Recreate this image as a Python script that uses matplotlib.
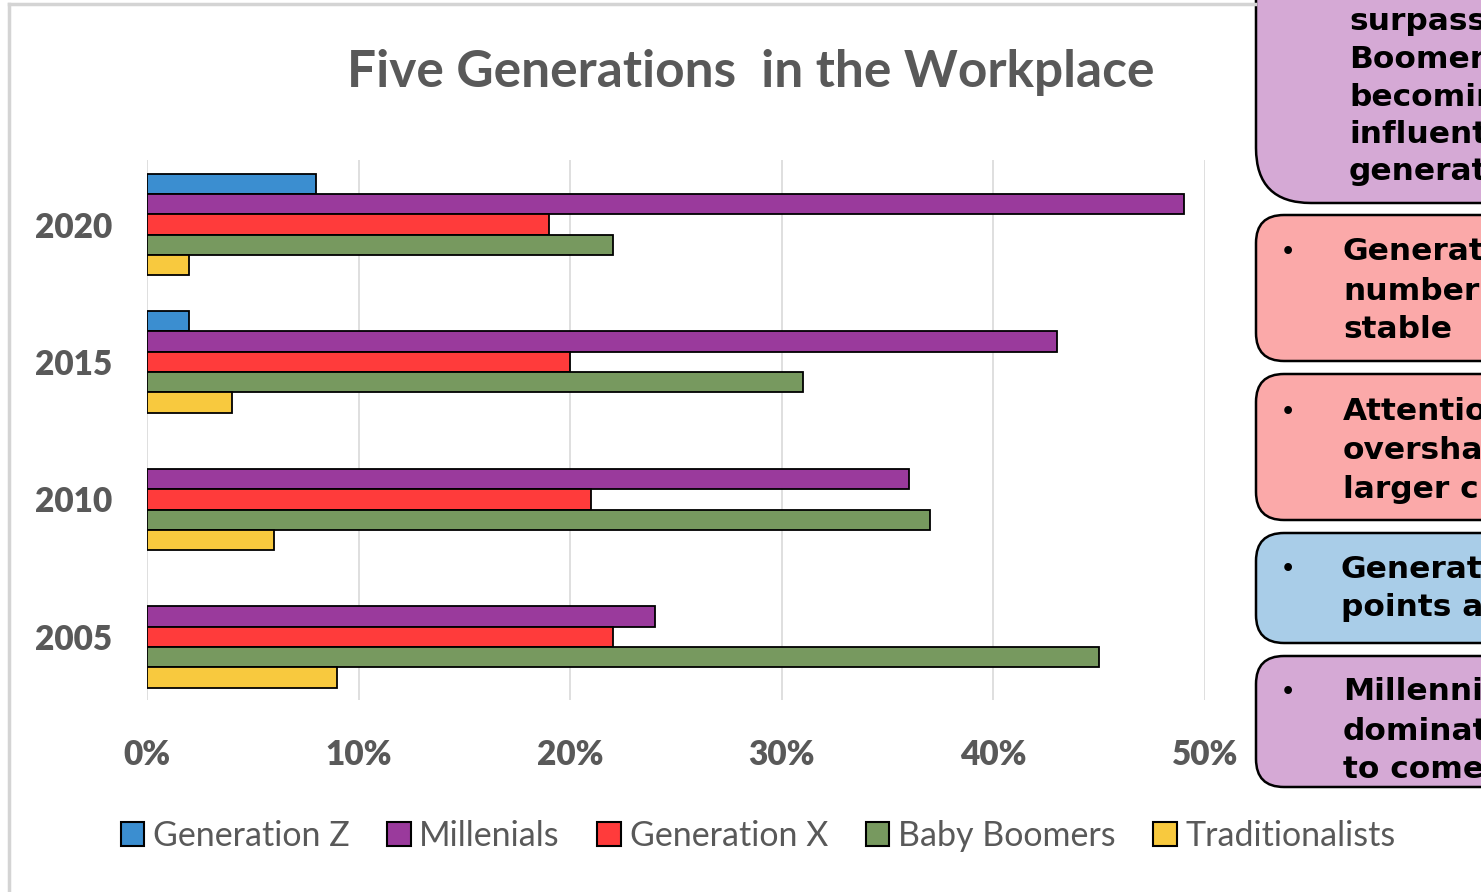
import numpy as np
import matplotlib
matplotlib.use("Agg")
import matplotlib.pyplot as plt
from matplotlib.patches import Patch, FancyBboxPatch

# --- data ---
years = ["2005", "2010", "2015", "2020"]
series = ["Generation Z", "Millenials", "Generation X", "Baby Boomers", "Traditionalists"]
gen_z = [0, 0, 2, 8]
millenials = [24, 36, 43, 49]
gen_x = [22, 21, 20, 19]
boomers = [45, 37, 31, 22]
traditionalists = [9, 6, 4, 2]
colors = ["#3B8ED0", "#9A3A9C", "#FF3B3B", "#77995F", "#F8C93E"]
xticks = [0, 10, 20, 30, 40, 50]

# callout boxes on the right (cut off by the picture edge)
box_lines = [
    ["surpass", "Boomer", "becomin", "influent", "generat"],
    ["Generat", "number", "stable"],
    ["Attentio", "oversha", "larger c"],
    ["Generat", "points a"],
    ["Millenni", "dominat", "to come"],
]
box_colors = ["#D5A9D5", "#FBA9A9", "#FBA9A9", "#A9CDE8", "#D5A9D5"]

W, H = 1481, 892
fig = plt.figure(figsize=(W / 100, H / 100), dpi=100)
fig.patch.set_facecolor("white")

# overlay in pixel coordinates for frame and callouts
ov = fig.add_axes([0, 0, 1, 1], zorder=0)
ov.set_xlim(0, W)
ov.set_ylim(H, 0)
ov.axis("off")
ov.plot([9, 1255], [4, 4], color="#D4D4D4", lw=2.5)
ov.plot([9, 9], [4, H], color="#D4D4D4", lw=2.5)

# box geometry: (top, bottom, rounding, text x, first line y, line step, bullet)
box_geom = [
    (-120, 203, 55, 1349, 22, 37.5, False),
    (215, 361, 28, 1343, 252, 39, True),
    (374, 520, 28, 1343, 412, 38.5, True),
    (533, 643, 28, 1341, 569, 39, True),
    (656, 787, 28, 1343, 692, 39, True),
]
for (top, bot, r, tx, ty, step, bullet), lines, c in zip(box_geom, box_lines, box_colors):
    ov.add_patch(FancyBboxPatch((1256, top), 400, bot - top,
                                boxstyle=f"round,pad=0,rounding_size={r}",
                                fc=c, ec="black", lw=1.8, clip_on=False))
    if bullet:
        ov.text(1288, ty, "•", fontsize=16, fontweight="bold", va="center",
                ha="center", family="DejaVu Sans")
    for i, s in enumerate(lines):
        ov.text(tx, ty + i * step, s, fontsize=22.5, fontweight="bold",
                va="center", ha="left", family="DejaVu Sans", color="black")

# --- main chart ---
ax = fig.add_axes([147 / W, 1 - 700 / H, (1205 - 147) / W, (700 - 160) / H], zorder=2)
ax.patch.set_alpha(0)

values = [gen_z, millenials, gen_x, boomers, traditionalists]
y = np.arange(len(years))
h = 0.148
for i, (name, vals, c) in enumerate(zip(series, values, colors)):
    lws = [1.3 if v > 0 else 0 for v in vals]
    ax.barh(y + (2 - i) * h, vals, height=h, color=c, edgecolor="black",
            linewidth=lws, label=name, zorder=3)

ax.set_xlim(0, 50)
ax.set_ylim(-0.46, 3.47)
ax.set_xticks(xticks)
ax.set_xticklabels([f"{t}%" for t in xticks])
ax.set_yticks(y)
ax.set_yticklabels(years)
ax.grid(axis="x", color="#D9D9D9", lw=1.2, zorder=0)
for s in ax.spines.values():
    s.set_visible(False)
ax.tick_params(length=0)
ax.tick_params(axis="x", pad=28)
ax.tick_params(axis="y", pad=25)
for lab in ax.get_xticklabels() + ax.get_yticklabels():
    lab.set_family("Lato")
    lab.set_fontweight("heavy")
    lab.set_fontsize(24)
    lab.set_color("#595959")

fig.text(751 / W, 1 - 72 / H, "Five Generations  in the Workplace", ha="center",
         va="center", fontsize=37, fontweight="bold", family="Lato", color="#595959")

handles = [Patch(facecolor=c, edgecolor="black", lw=1.5) for c in colors]
leg = fig.legend(handles, series, loc="center", bbox_to_anchor=(758 / W, 1 - 836 / H),
                 ncol=5, frameon=False, handlelength=0.7, handleheight=0.7,
                 handletextpad=0.25, columnspacing=1.1,
                 prop={"family": "Lato", "size": 24.5})
for t in leg.get_texts():
    t.set_color("#595959")

fig.savefig("out.png", dpi=100)
